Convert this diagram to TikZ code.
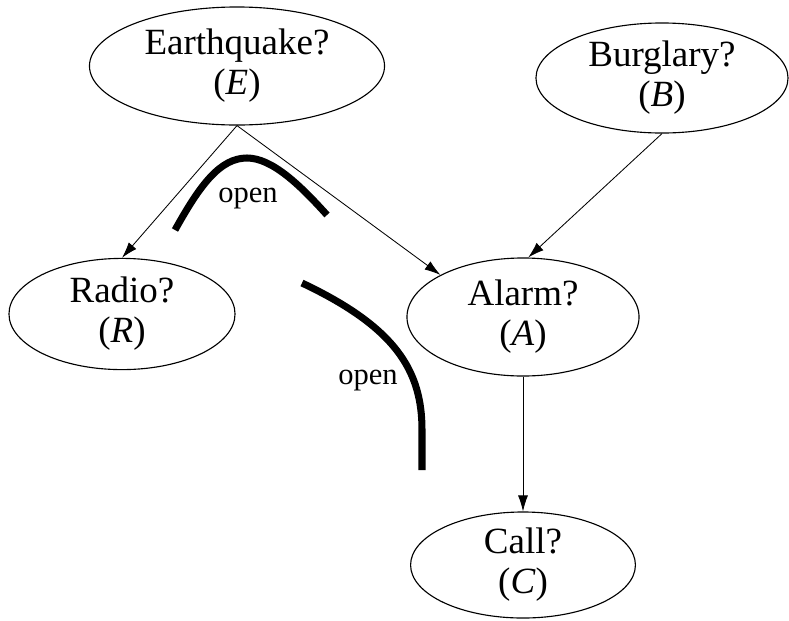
\documentclass[tikz,border=0pt]{standalone}
\usepackage{fontspec}
\setmainfont{Liberation Serif}
\usetikzlibrary{shapes.geometric, arrows.meta}
\tikzset{
	varnode/.style={draw, ellipse, line width=0.8pt, inner sep=0pt, align=center,
		font=\fontsize{26.3}{28.5}\selectfont},
	link/.style={line width=0.6pt, -{Latex[length=0.4cm, width=0.25cm]}},
	cut/.style={line width=5pt},
	cutlabel/.style={font=\fontsize{21.7}{24}\selectfont}
}

\begin{document}
\begin{tikzpicture}[x=0.025cm, y=-0.025cm]
		\useasboundingbox (0,0) rectangle (789,620);

		\node[varnode, minimum width=7.375cm, minimum height=2.95cm] (E) at (237, 66) {Earthquake?\\(\textit{E})};
		\node[varnode, minimum width=6.3cm, minimum height=2.75cm] (B) at (662, 78) {Burglary?\\(\textit{B})};
		\node[varnode, minimum width=5.65cm, minimum height=2.78cm] (R) at (122, 314) {Radio?\\(\textit{R})};
		\node[varnode, minimum width=5.8cm, minimum height=2.95cm] (A) at (523, 317) {Alarm?\\(\textit{A})};
		\node[varnode, minimum width=5.62cm, minimum height=2.65cm] (C) at (523, 565) {Call?\\(\textit{C})};

		\draw[link] (E.south) -- (R.north);
		\draw[link] (E.south) -- (A.153);
		\draw[link] (B.south) -- (A.85);
		\draw[link] (A.south) -- (C.north);

		% open paths
		\draw[cut] (175, 230) .. controls (200, 185) and (220, 158) .. (247, 158)
			.. controls (272, 158) and (300, 185) .. (327, 215);
		\node[cutlabel] (open1) at (248, 199) {open};

		\draw[cut] (302, 283) .. controls (395, 327) and (422, 370) .. (422, 430) -- (422, 470);
		\node[cutlabel] (open2) at (368, 381) {open};
	\end{tikzpicture}
\end{document}
